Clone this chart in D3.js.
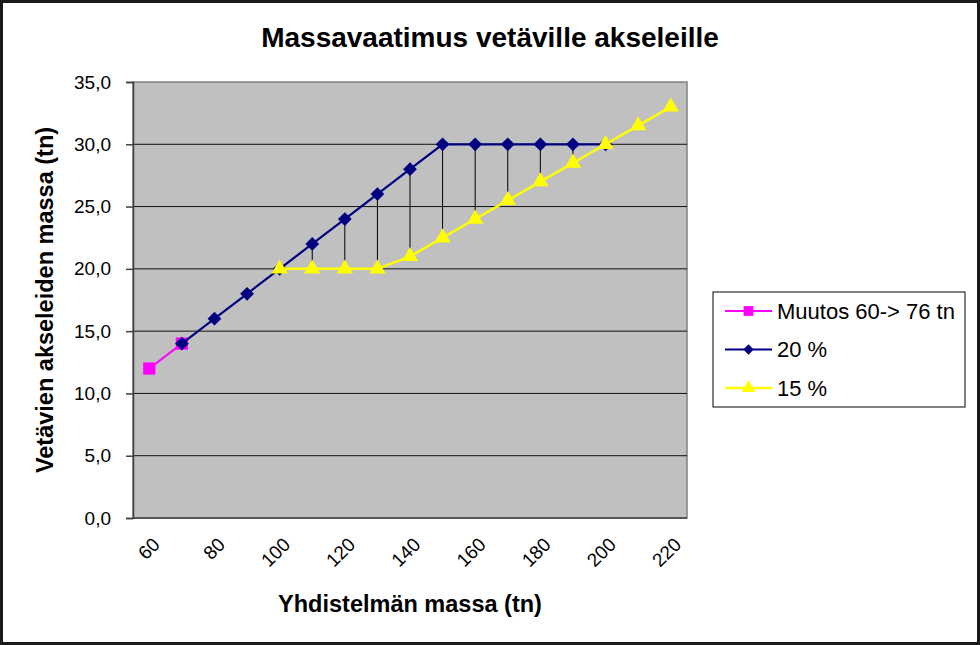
<!DOCTYPE html>
<html>
<head>
    <meta charset="utf-8">
    <title>Massavaatimus vetäville akseleille</title>
    <script src="https://d3js.org/d3.v7.min.js"></script>
    <style>
        body { margin: 0; background: #fff; }
        svg { display: block; font-family: "Liberation Sans", Arial, sans-serif; }
        .tick-label { font-size: 19px; fill: #000; }
        .axis-title { font-size: 23.5px; font-weight: bold; }
        .legend-text { font-size: 22px; }
    </style>
</head>
<body>
    <div id="chart"></div>
    <script>
	// Yhdistelmän massa (tn), one category per 10 tn
	const massa = [60, 70, 80, 90, 100, 110, 120, 130, 140, 150, 160, 170, 180, 190, 200, 210, 220];
	const muutos = [12, 14, null, null, null, null, null, null, null, null, null, null, null, null, null, null, null];
	const pros20 = [null, 14, 16, 18, 20, 22, 24, 26, 28, 30, 30, 30, 30, 30, 30, null, null];
	const pros15 = [null, null, null, null, 20, 20, 20, 20, 21, 22.5, 24, 25.5, 27, 28.5, 30, 31.5, 33];
	const seriesNames = ['Muutos 60-> 76 tn', '20 %', '15 %'];
	const xLabels = [60, 80, 100, 120, 140, 160, 180, 200, 220];
	const yTicks = [0, 5, 10, 15, 20, 25, 30, 35];

	const width = 980, height = 645;
	const plot = {left: 133, right: 687, top: 82, bottom: 518};

	const x = d3.scaleBand()
	    .domain(massa)
	    .range([plot.left, plot.right])
	    .padding(0);
	const cx = d => x(d) + x.bandwidth() / 2;

	const y = d3.scaleLinear()
	    .domain([0, 35])
	    .range([plot.bottom, plot.top]);

	const svg = d3.select("#chart").append("svg")
	    .attr("width", width)
	    .attr("height", height);

	// chart area with dark frame
	svg.append("rect")
	    .attr("x", 1.5).attr("y", 1.5)
	    .attr("width", width - 3).attr("height", height - 3)
	    .attr("fill", "#fff")
	    .attr("stroke", "#1a1a1a")
	    .attr("stroke-width", 3);

	// plot area
	svg.append("rect")
	    .attr("x", plot.left).attr("y", plot.top)
	    .attr("width", plot.right - plot.left).attr("height", plot.bottom - plot.top)
	    .attr("fill", "#c0c0c0")
	    .attr("stroke", "#808080")
	    .attr("stroke-width", 1.5);

	// gridlines
	svg.append("g")
	    .selectAll("line")
	    .data(yTicks.filter(d => d > 0 && d < 35))
	    .join("line")
	    .attr("x1", plot.left).attr("x2", plot.right)
	    .attr("y1", d => y(d)).attr("y2", d => y(d))
	    .attr("stroke", "#111")
	    .attr("stroke-width", 1);

	// y axis
	const yAxis = d3.axisLeft(y)
	    .tickValues(yTicks)
	    .tickSize(7)
	    .tickPadding(15)
	    .tickFormat(d => d3.format(".1f")(d).replace(".", ","));
	const gy = svg.append("g")
	    .attr("transform", `translate(${plot.left},0)`)
	    .call(yAxis);
	gy.attr("font-family", null).attr("font-size", null);
	gy.select(".domain").attr("stroke", "#404040").attr("stroke-width", 1.5);
	gy.selectAll(".tick line").attr("stroke", "#404040").attr("stroke-width", 1.5);
	gy.selectAll(".tick text").attr("class", "tick-label");

	// x axis line
	svg.append("line")
	    .attr("x1", plot.left).attr("x2", plot.right)
	    .attr("y1", plot.bottom).attr("y2", plot.bottom)
	    .attr("stroke", "#404040")
	    .attr("stroke-width", 1.5);

	// x tick labels, rotated
	svg.append("g")
	    .selectAll("text")
	    .data(xLabels)
	    .join("text")
	    .attr("class", "tick-label")
	    .attr("text-anchor", "end")
	    .attr("dy", "0.35em")
	    .attr("transform", d => `translate(${cx(d) + 7},541) rotate(-45)`)
	    .text(d => d);

	// high-low lines between series in each category
	const allSeries = [muutos, pros20, pros15];
	const hiLo = massa.map((m, i) => {
	    const vals = allSeries.map(s => s[i]).filter(v => v != null);
	    return {m, hi: d3.max(vals), lo: d3.min(vals), n: vals.length};
	}).filter(d => d.n > 1 && d.hi > d.lo);

	svg.append("g")
	    .selectAll("line")
	    .data(hiLo)
	    .join("line")
	    .attr("x1", d => cx(d.m)).attr("x2", d => cx(d.m))
	    .attr("y1", d => y(d.hi)).attr("y2", d => y(d.lo))
	    .attr("stroke", "#000")
	    .attr("stroke-width", 1);

	// series
	const styles = [
	    {color: "#ff00ff", width: 2, symbol: d3.symbolSquare, size: 150, rot: 0, lsize: 95},
	    {color: "#000080", width: 2.2, symbol: d3.symbolSquare, size: 95, rot: 45, lsize: 55},
	    {color: "#ffff00", width: 2.5, symbol: d3.symbolTriangle, size: 115, rot: 0, lsize: 80}
	];

	const line = d3.line()
	    .defined(d => d.v != null)
	    .x(d => cx(d.m))
	    .y(d => y(d.v));

	allSeries.forEach((s, k) => {
	    const st = styles[k];
	    const pts = massa.map((m, i) => ({m, v: s[i]}));
	    svg.append("path")
	        .datum(pts)
	        .attr("d", line)
	        .attr("fill", "none")
	        .attr("stroke", st.color)
	        .attr("stroke-width", st.width);
	    svg.append("g")
	        .selectAll("path")
	        .data(pts.filter(d => d.v != null))
	        .join("path")
	        .attr("d", d3.symbol().type(st.symbol).size(st.size))
	        .attr("transform", d => `translate(${cx(d.m)},${y(d.v)}) rotate(${st.rot})`)
	        .attr("fill", st.color);
	});

	// title
	svg.append("text")
	    .attr("x", 490).attr("y", 47)
	    .attr("text-anchor", "middle")
	    .style("font-size", "28px")
	    .style("font-weight", "bold")
	    .text("Massavaatimus vetäville akseleille");

	// axis titles
	svg.append("text")
	    .attr("class", "axis-title")
	    .attr("x", (plot.left + plot.right) / 2).attr("y", 612)
	    .attr("text-anchor", "middle")
	    .text("Yhdistelmän massa (tn)");

	svg.append("text")
	    .attr("class", "axis-title")
	    .attr("transform", `translate(53,${(plot.top + plot.bottom) / 2}) rotate(-90)`)
	    .attr("text-anchor", "middle")
	    .text("Vetävien akseleiden massa (tn)");

	// legend
	const lg = svg.append("g");
	lg.append("rect")
	    .attr("x", 713).attr("y", 292)
	    .attr("width", 252).attr("height", 115)
	    .attr("fill", "#fff")
	    .attr("stroke", "#000")
	    .attr("stroke-width", 1);

	const rowY = d3.scalePoint().domain(seriesNames).range([311, 388]);
	seriesNames.forEach((name, k) => {
	    const st = styles[k];
	    const g = lg.append("g").attr("transform", `translate(0,${rowY(name)})`);
	    g.append("line")
	        .attr("x1", 725).attr("x2", 772)
	        .attr("stroke", st.color).attr("stroke-width", st.width);
	    g.append("path")
	        .attr("d", d3.symbol().type(st.symbol).size(st.lsize))
	        .attr("transform", `translate(748.5,0) rotate(${st.rot})`)
	        .attr("fill", st.color);
	    g.append("text")
	        .attr("class", "legend-text")
	        .attr("x", 777).attr("dy", "0.35em")
	        .text(name);
	});
	</script>
</body>
</html>
